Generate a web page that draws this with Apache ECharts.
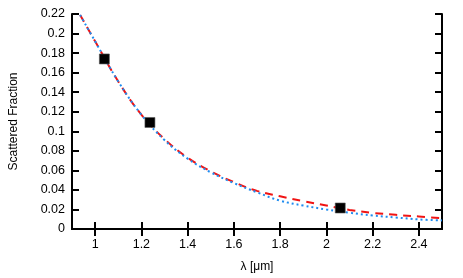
<!DOCTYPE html>
<html><head><meta charset="utf-8">
<script src="https://cdn.jsdelivr.net/npm/echarts@6/dist/echarts.min.js"></script>
<style>html,body{margin:0;padding:0;background:#fff}#c{width:463px;height:278px}</style>
</head><body><div id="c"></div>
<script>
var lambdaGrid = [0.935, 1.0, 1.1, 1.2, 1.3, 1.4, 1.5, 1.6, 1.7, 1.8, 1.9, 2.0, 2.1, 2.2, 2.3, 2.4, 2.5];
var redModel  = [0.219, 0.192, 0.151, 0.117, 0.092, 0.073, 0.059, 0.048, 0.039, 0.0335, 0.0285, 0.024, 0.0195, 0.0165, 0.0145, 0.0128, 0.011];
var blueModel = [0.219, 0.192, 0.151, 0.117, 0.091, 0.072, 0.058, 0.047, 0.0375, 0.029, 0.024, 0.020, 0.0167, 0.0138, 0.0118, 0.0098, 0.0088];
var measLambda = [1.04, 1.237, 2.06];
var measValue  = [0.174, 0.109, 0.0215];
var xTicks = [1, 1.2, 1.4, 1.6, 1.8, 2, 2.2, 2.4];

function pairs(xs, ys){ return xs.map(function(x,i){ return [x, ys[i]]; }); }
var font = 'Liberation Sans';
var chart = echarts.init(document.getElementById('c'), null, {renderer:'canvas'});
var axLine = {show:true, lineStyle:{color:'#000', width:2}};
var tick = {show:true, inside:true, length:7, lineStyle:{color:'#000', width:2}};
function fmt(v){ return String(parseFloat(v.toFixed(2))); }
chart.setOption({
  animation:false,
  grid:{left:68, right:21, top:14, bottom:49},
  xAxis:[{
    type:'value', min:0.9, max:2.5, position:'bottom',
    name:'λ [μm]', nameLocation:'middle', nameGap:32,
    nameTextStyle:{fontFamily:font, fontSize:12, color:'#000'},
    axisLine:axLine, axisTick:Object.assign({customValues:xTicks}, tick),
    axisLabel:{customValues:xTicks, fontFamily:font, fontSize:12.5, color:'#000', margin:9, formatter:fmt},
    splitLine:{show:false}
  },{
    type:'value', min:0.9, max:2.5, position:'top',
    axisLine:axLine, axisTick:Object.assign({customValues:xTicks}, tick),
    axisLabel:{show:false}, splitLine:{show:false}
  }],
  yAxis:[{
    type:'value', min:0, max:0.22, interval:0.02, position:'left',
    name:'Scattered Fraction', nameLocation:'middle', nameGap:52, nameRotate:90,
    nameTextStyle:{fontFamily:font, fontSize:12, color:'#000'},
    axisLine:axLine, axisTick:tick,
    axisLabel:{fontFamily:font, fontSize:12.5, color:'#000', margin:7, formatter:fmt},
    splitLine:{show:false}
  },{
    type:'value', min:0, max:0.22, interval:0.02, position:'right',
    axisLine:axLine, axisTick:tick, axisLabel:{show:false}, splitLine:{show:false}
  }],
  series:[{
    type:'line', data:pairs(lambdaGrid, redModel), smooth:0.4, symbol:'none',
    lineStyle:{color:'#f01414', width:2, type:[8,6]}, z:2, clip:true
  },{
    type:'line', data:pairs(lambdaGrid, blueModel), smooth:0.4, symbol:'none',
    lineStyle:{color:'#1e8cf0', width:2, type:[2,3]}, z:3, clip:true
  },{
    type:'scatter', data:pairs(measLambda, measValue), symbol:'rect', symbolSize:10,
    itemStyle:{color:'#000', opacity:1, borderColor:'#555', borderWidth:0.6}, z:4
  }]
});
</script></body></html>
